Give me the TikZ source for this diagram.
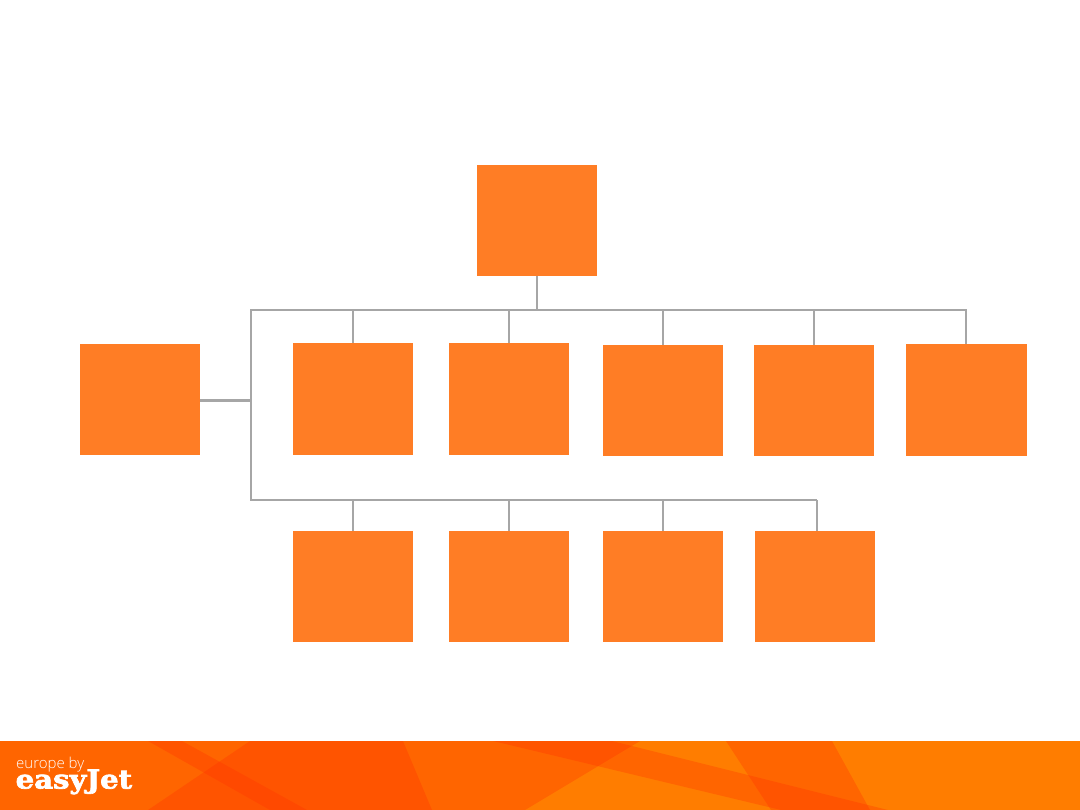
\documentclass[tikz,border=0pt]{standalone}
\usepackage{fontspec}
\setmainfont{Liberation Sans}
\newfontfamily\logofont[FakeBold=2.6,FakeStretch=1.12]{DejaVu Serif}
\newfontfamily\logolight{Open Sans Light}
\usetikzlibrary{positioning}
\definecolor{unitorange}{HTML}{FF7D25}
\definecolor{linkgrey}{HTML}{A6A6A6}
\definecolor{bandorange}{HTML}{FF7D00}
\definecolor{bandshade}{HTML}{FF3000}

\begin{document}
\begin{tikzpicture}[
    x=1pt,
    y=-1pt,
    unit/.style={
        rectangle,
        fill=unitorange,
        minimum width=120pt,
        minimum height=111pt,
        inner sep=0pt,
    },
    link/.style={
        draw=linkgrey,
        line width=2pt,
    },
    shade/.style={
        fill=bandshade,
        fill opacity=0.3,
    },
    logotext/.style={
        text=white,
        anchor=base west,
        inner sep=0pt,
    }
]
    \useasboundingbox (0,0) rectangle (1080,810);

    % Footer band
    \fill[bandorange] (0,741) rectangle (1080,810);
    \fill[shade] (0,741) -- (640,741) -- (525,810) -- (0,810) -- cycle;
    \fill[shade] (250,741) -- (403,741) -- (432,810) -- (148,810) -- cycle;
    \fill[shade] (148,741) -- (182,741) -- (307,810) -- (270,810) -- cycle;
    \fill[shade] (493,741) -- (612,741) -- (888,810) -- (781,810) -- cycle;
    \fill[shade] (726,741) -- (832,741) -- (870,810) -- (771,810) -- cycle;

    % Logo
    \node[logotext, font=\logolight\fontsize{15}{15}\selectfont] (logoline) at (16,768) {europe by};
    \node[logotext, font=\logofont\bfseries\fontsize{26}{26}\selectfont] (logoname) at (15.5,788.5) {easyJet};

    % Boxes
    \node[unit] (root) at (537,220.5) {};
    \node[unit] (side) at (140,399.5) {};

    \node[unit, minimum height=112pt] (upper1) at (353,399) {};
    \node[unit, minimum height=112pt] (upper2) at (509,399) {};
    \node[unit] (upper3) at (663,400.5) {};
    \node[unit] (upper4) at (814,400.5) {};
    \node[unit, minimum width=121pt, minimum height=112pt] (upper5) at (966.5,400) {};

    \node[unit] (lower1) at (353,586.5) {};
    \node[unit] (lower2) at (509,586.5) {};
    \node[unit] (lower3) at (663,586.5) {};
    \node[unit] (lower4) at (815,586.5) {};

    % Bus corners
    \coordinate (topleft) at (251,310);
    \coordinate (topright) at (966,310);
    \coordinate (midleft) at (251,400.5);
    \coordinate (lowleft) at (251,500);
    \coordinate (lowright) at (817,500);

    % Connectors
    \draw[link] (lowright) -- (lowleft) -- (topleft) -- (topright) -- (topright |- upper5.north);
    \draw[link, line width=3pt] (side.east |- midleft) -- (midleft);
    \draw[link] (root.south) -- (root.south |- topleft);
    \draw[link] (upper1.north) -- (upper1.north |- topleft);
    \draw[link] (upper2.north) -- (upper2.north |- topleft);
    \draw[link] (upper3.north) -- (upper3.north |- topleft);
    \draw[link] (upper4.north) -- (upper4.north |- topleft);
    \draw[link] (lower1.north) -- (lower1.north |- lowleft);
    \draw[link] (lower2.north) -- (lower2.north |- lowleft);
    \draw[link] (lower3.north) -- (lower3.north |- lowleft);
    \draw[link] (lowright) -- (lowright |- lower4.north);
\end{tikzpicture}
\end{document}
